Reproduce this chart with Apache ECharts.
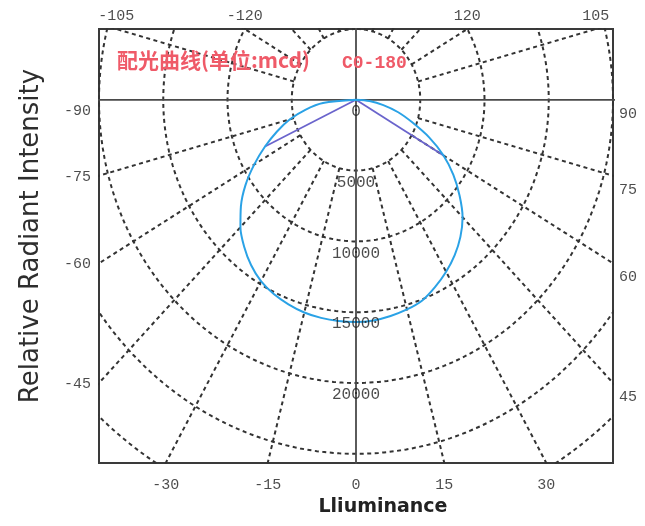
<!DOCTYPE html>
<html>
<head>
<meta charset="utf-8">
<script src="https://cdn.jsdelivr.net/npm/echarts@6/dist/echarts.min.js"></script>
<style>
html,body{margin:0;padding:0;background:#ffffff;}
#chart{width:645px;height:526px;}
</style>
</head>
<body>
<div id="chart"></div>
<script>
// ---------------- data ----------------
const angles = [-90,-85,-80,-75,-70,-65,-60,-55,-50,-45,-40,-35,-30,-25,-20,-15,-10,-5,0,
                5,10,15,20,25,30,35,40,45,50,55,60,65,70,75,80,85,90];
const intensity = [0,2580,3970,5320,6540,7810,9150,10500,11690,12720,13540,14240,14790,15140,15370,15550,15640,15680,15690,
                   15640,15500,15330,15080,14580,14025,13390,12640,11730,10520,9250,7865,6280,4655,3400,2160,1050,0];
const halfAngles = [-65, 60];
const halfIntensity = [7810, 7865];

const ringLabels = [0, 5000, 10000, 15000, 20000];
const gridRings = [5000, 10000, 15000, 20000, 25000, 30000];
const spokeAngles = [-165,-150,-135,-120,-105,-75,-60,-45,-30,-15,15,30,45,60,75,105,120,135,150,165];
const solidAngles = [-90, 90, 0, 180];

const topLabels = [-105, -120, 120, 105];
const leftLabels = [-90, -75, -60, -45];
const rightLabels = [90, 75, 60, 45];
const bottomLabels = [-30, -15, 0, 15, 30];

const titleText = '配光曲线(单位:mcd)';
const planeText = 'C0-180';
const xTitle = 'Lliuminance';
const yTitle = 'Relative Radiant Intensity';

// ---------------- layout ----------------
const X_MIN = -20000, X_MAX = 20000, Y_MIN = -25650, Y_MAX = 5000;
const RAD = Math.PI / 180;
function toXY(theta, r) { return [r * Math.sin(theta * RAD), -r * Math.cos(theta * RAD)]; }

function edgePoint(theta) {
  const s = Math.sin(theta * RAD), c = -Math.cos(theta * RAD);
  let t = Infinity, side = null;
  if (s > 1e-9) { const v = X_MAX / s; if (v < t) { t = v; side = 'right'; } }
  if (s < -1e-9) { const v = X_MIN / s; if (v < t) { t = v; side = 'left'; } }
  if (c > 1e-9) { const v = Y_MAX / c; if (v < t) { t = v; side = 'top'; } }
  if (c < -1e-9) { const v = Y_MIN / c; if (v < t) { t = v; side = 'bottom'; } }
  return { value: [t * s, t * c], side: side };
}

const gridColor = '#333';
const dashStyle = { color: gridColor, width: 2, type: [4, 3.5] };
const series = [];

gridRings.forEach(function (r) {
  const pts = [];
  for (let a = -180; a <= 180; a += 1) pts.push(toXY(a, r));
  series.push({ type: 'line', data: pts, symbol: 'none', silent: true, clip: true,
    lineStyle: dashStyle, z: 1 });
});
spokeAngles.forEach(function (a) {
  series.push({ type: 'line', data: [toXY(a, 5000), toXY(a, 45000)], symbol: 'none', silent: true, clip: true,
    lineStyle: dashStyle, z: 1 });
});
solidAngles.forEach(function (a) {
  series.push({ type: 'line', data: [toXY(a, 0), toXY(a, 45000)], symbol: 'none', silent: true, clip: true,
    lineStyle: { color: '#4a4a4a', width: 1.8 }, z: 2 });
});

// light distribution curve
series.push({ type: 'line', name: planeText, data: angles.map(function (a, i) { return toXY(a, intensity[i]); }),
  symbol: 'none', smooth: 0.3, clip: true, lineStyle: { color: '#2aa2e6', width: 2 }, z: 4 });
// half-intensity rays
halfAngles.forEach(function (a, i) {
  series.push({ type: 'line', data: [toXY(a, 0), toXY(a, halfIntensity[i])], symbol: 'none', clip: true,
    lineStyle: { color: '#6a64cc', width: 1.8 }, z: 3 });
});

// ring value labels
series.push({ type: 'scatter', symbolSize: 0, silent: true, clip: false, z: 5,
  data: ringLabels.map(function (r) { return { value: toXY(0, r), name: String(r) }; }),
  label: { show: true, position: [0, 0], offset: [0, 12], align: 'center', verticalAlign: 'middle',
    formatter: '{b}', fontFamily: 'Liberation Mono', fontSize: 16, color: '#1e1e1e' } });

// angle labels at the frame edges
const sideStyle = {
  top:    { offset: [0, -13], align: 'center' },
  bottom: { offset: [0, 22], align: 'center' },
  left:   { offset: [-8, 1], align: 'right' },
  right:  { offset: [6, 14], align: 'left' }
};
const angleLabelData = [].concat(topLabels, leftLabels, rightLabels, bottomLabels).map(function (a) {
  const e = edgePoint(a);
  const st = sideStyle[e.side];
  let off = st.offset.slice();
  if (Math.abs(a) === 90) off[1] = Math.max(off[1], 11);
  return { value: e.value, name: String(a),
    label: { offset: off, align: st.align } };
});
series.push({ type: 'scatter', symbolSize: 0, silent: true, clip: false, z: 5,
  data: angleLabelData,
  label: { show: true, position: [0, 0], verticalAlign: 'middle', formatter: '{b}',
    fontFamily: 'Liberation Mono', fontSize: 15, color: '#1e1e1e' } });

const chart = echarts.init(document.getElementById('chart'), null, { renderer: 'canvas' });
chart.setOption({
  animation: false,
  backgroundColor: '#ffffff',
  title: [
    { text: titleText, left: 117, top: 50, padding: 0,
      textStyle: { color: '#ef5a68', fontSize: 21, fontWeight: 'bold', fontFamily: 'Noto Sans CJK SC' } },
    { text: planeText, left: 342, top: 54, padding: 0,
      textStyle: { color: '#ef5a68', fontSize: 18, fontWeight: 'bold', fontFamily: 'Liberation Mono' } }
  ],
  grid: { left: 99, top: 29, width: 514, height: 434, show: true, borderColor: '#3a3a3a', borderWidth: 2,
    backgroundColor: 'transparent' },
  xAxis: { type: 'value', min: X_MIN, max: X_MAX, show: false },
  yAxis: { type: 'value', min: Y_MIN, max: Y_MAX, show: false },
  graphic: [
    { type: 'text', x: 383, y: 507, silent: true,
      style: { text: xTitle, align: 'center', verticalAlign: 'middle', font: 'bold 19px "DejaVu Sans"', fill: '#222' } },
    { type: 'text', x: 31, y: 236, rotation: Math.PI / 2, silent: true,
      style: { text: yTitle, align: 'center', verticalAlign: 'middle', font: '26px "DejaVu Sans"', fill: '#2e2e2e' } }
  ],
  series: series
});
</script>
</body>
</html>
